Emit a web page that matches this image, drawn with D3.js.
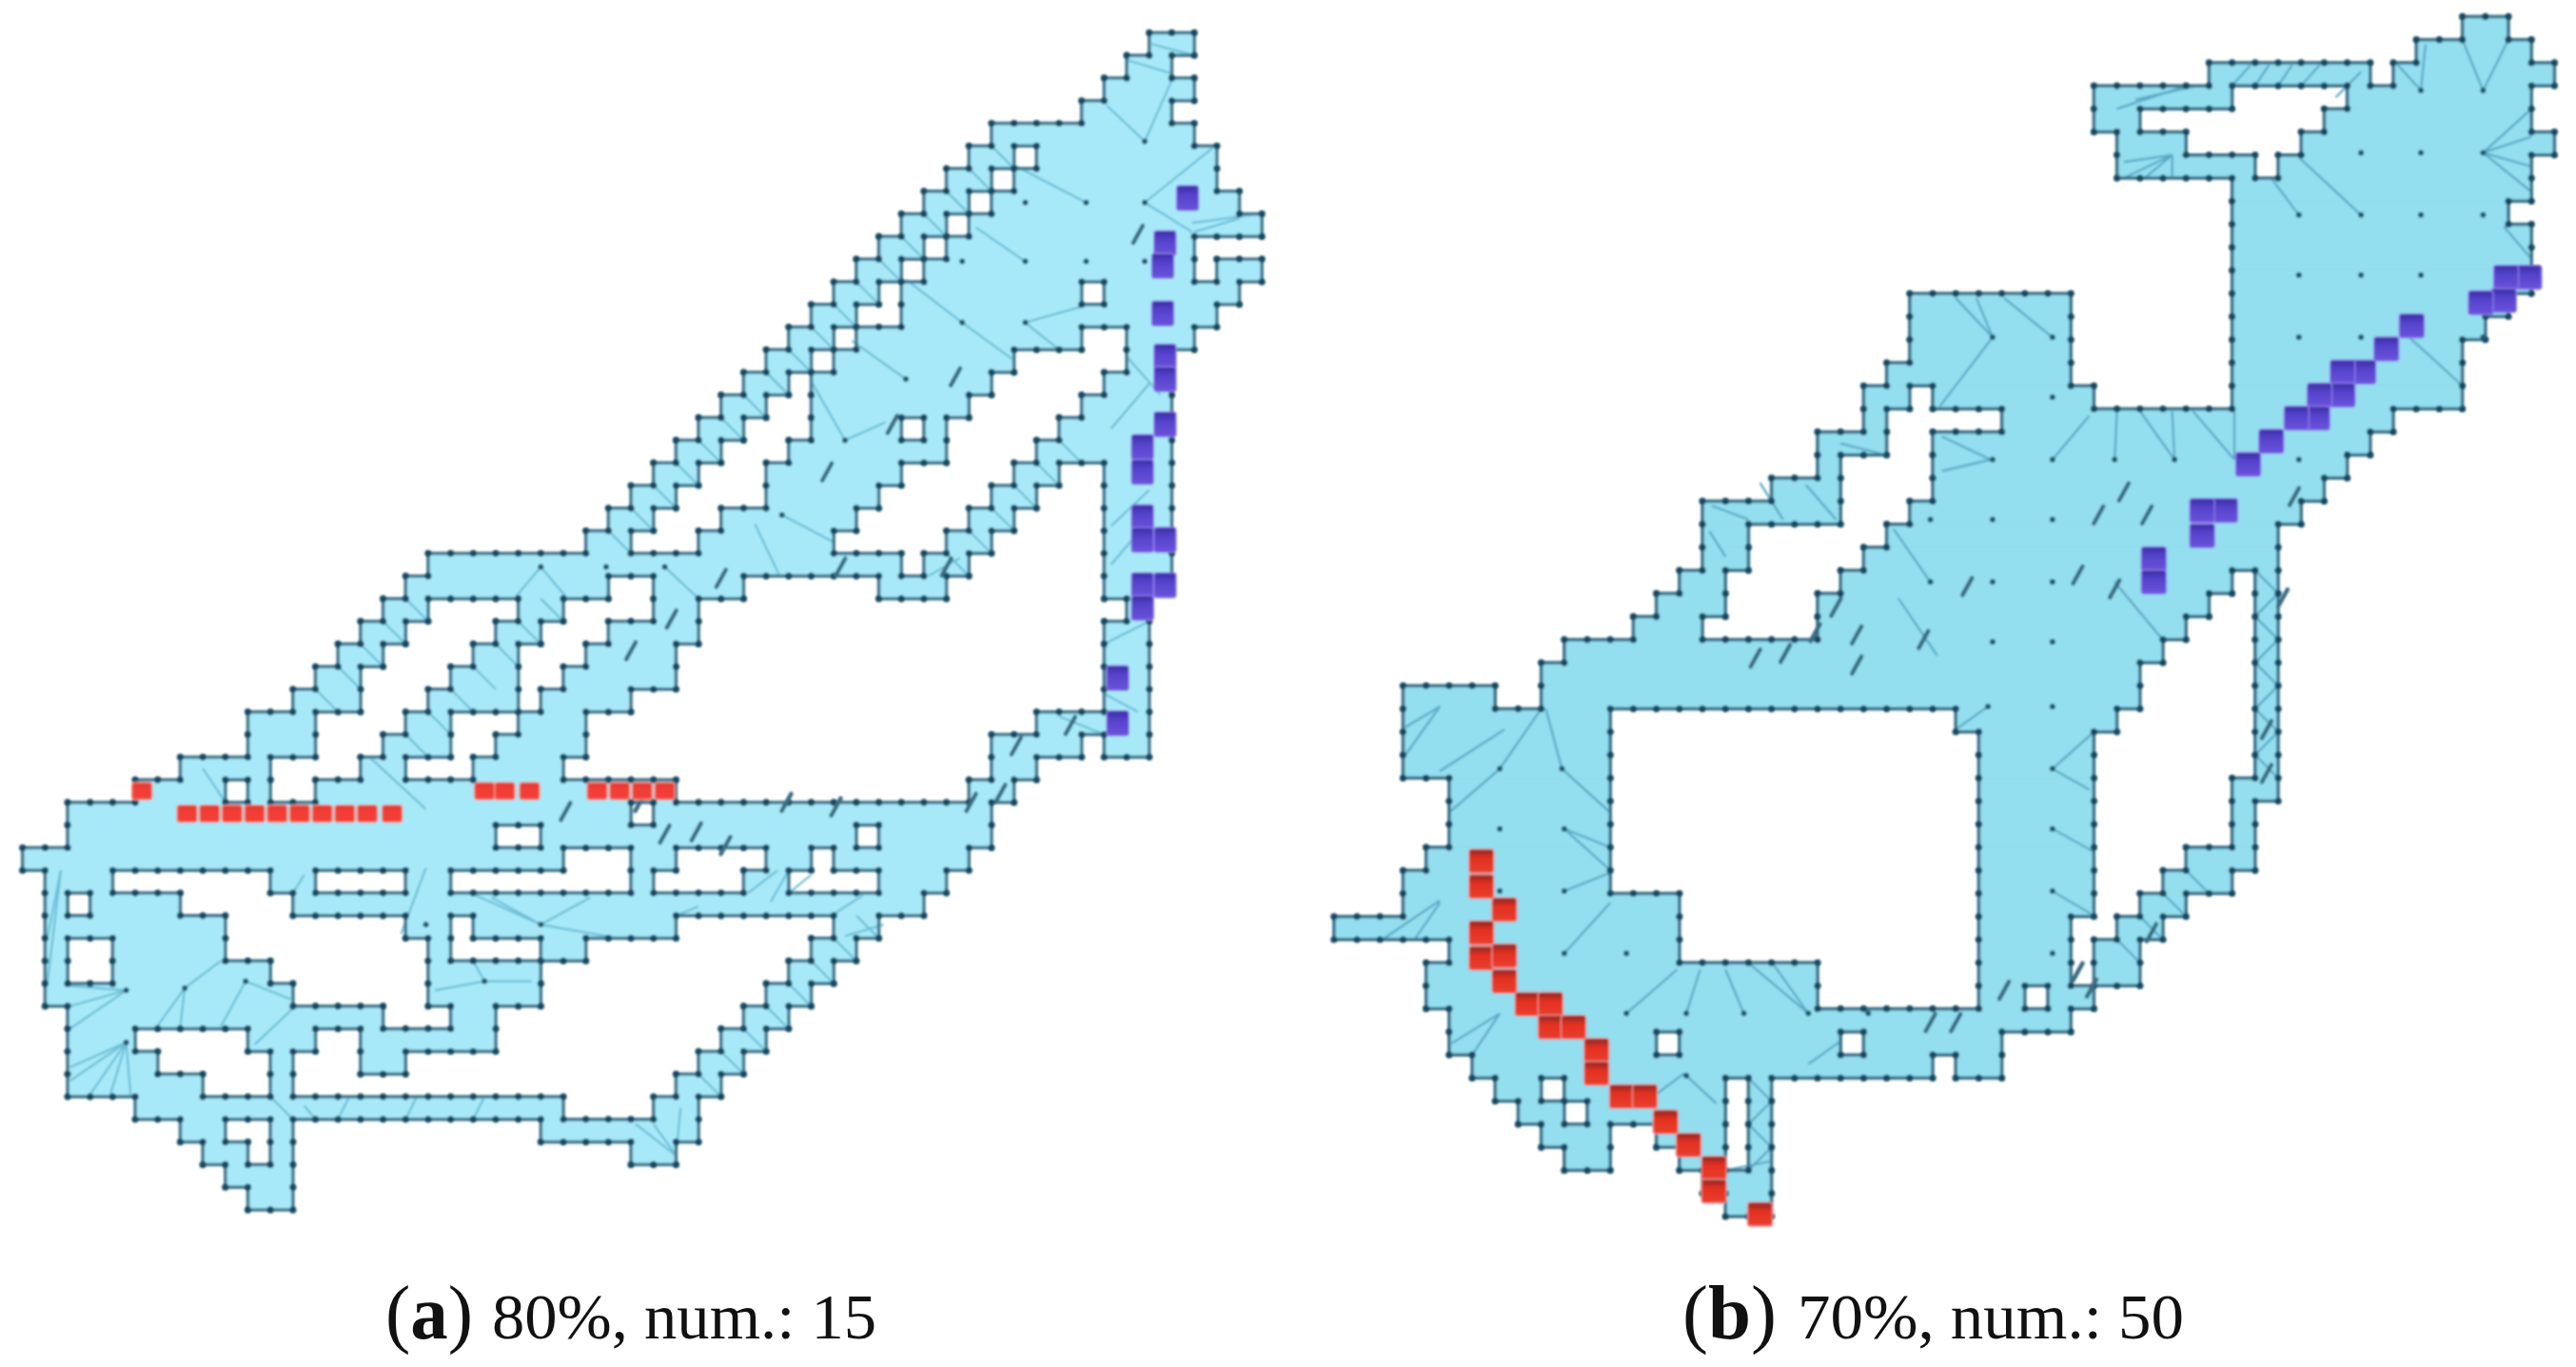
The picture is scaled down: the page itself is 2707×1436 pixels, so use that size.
<!DOCTYPE html>
<html><head><meta charset="utf-8">
<script src="https://cdn.jsdelivr.net/npm/d3@7"></script>
<style>html,body{margin:0;background:#fff}svg{display:block}</style></head>
<body><svg id="c" width="2707" height="1436"></svg>
<script>
// Free-space rows of each map: row index -> [from,to) cell runs
const rowsA=[
[[51,53]],[[50,52]],[[49,53]],[[48,52]],[[44,53]],[[43,45],[46,54]],[[42,44],[45,54]],[[41,43],[44,55]],
[[40,42],[43,56]],[[39,41],[42,53]],[[38,40],[41,53],[54,56]],[[37,39],[40,48],[49,55]],[[36,38],[40,54]],
[[35,37],[38,48],[50,53]],[[34,36],[37,45],[50,52]],[[33,35],[36,44],[49,52]],[[32,34],[36,43],[48,52]],
[[31,33],[36,40],[41,42],[47,52]],[[30,32],[35,42],[46,52]],[[29,31],[34,40],[45,47],[49,52]],
[[28,30],[34,39],[44,46],[49,52]],[[27,29],[32,38],[43,45],[49,52]],[[26,28],[31,37],[42,44],[49,52]],
[[19,40],[41,43],[49,52]],[[18,27],[29,33],[39,42],[49,51]],[[17,19],[23,25],[29,31],[50,51]],
[[16,18],[22,24],[27,31],[49,51]],[[15,17],[21,23],[26,30],[49,51]],[[14,16],[20,23],[25,30],[49,51]],
[[13,16],[19,23],[24,28],[49,51]],[[11,14],[18,20],[23,26],[46,51]],[[11,14],[17,20],[22,26],[44,48],[49,51]],
[[8,12],[16,18],[21,25],[44,46]],[[6,10],[11,12],[14,30],[43,45]],[[3,28],[29,44]],[[3,22],[24,38],[39,44]],
[[1,25],[28,30],[34,36],[37,43]],[[2,5],[12,14],[18,20],[28,29],[33,35],[39,42]],[[2,3],[4,8],[13,41]],
[[2,10],[18,20],[21,30],[37,39]],[[2,3],[5,10],[19,20],[24,26],[36,38]],[[2,3],[5,12],[19,24],[35,37]],
[[2,13],[19,24],[34,36]],[[3,17],[20,22],[33,35]],[[3,6],[11,14],[16,22],[32,34]],[[3,7],[12,13],[16,18],[31,33]],
[[3,9],[12,13],[30,32]],[[6,25],[29,31]],[[8,10],[12,13],[24,31]],[[9,11],[12,13],[28,30]],[[10,13]],[[11,13]]
];
const rowsB=[
[[49,51]],[[47,52]],[[38,45],[46,53]],[[33,39],[44,52]],[[33,35],[43,52]],[[34,37],[42,53]],[[34,40],[41,52]],
[[39,52]],[[39,51]],[[39,52]],[[39,52]],[[39,52]],[[25,32],[39,51]],[[25,32],[39,50]],[[25,32],[39,49]],
[[24,32],[39,49]],[[23,25],[26,33],[39,49]],[[23,24],[29,46]],[[21,24],[26,45]],[[21,22],[26,44]],
[[19,22],[26,43]],[[16,22],[25,42]],[[16,18],[24,41]],[[16,18],[23,41]],[[15,17],[22,39],[40,41]],
[[14,17],[21,38],[40,41]],[[13,16],[21,37],[40,41]],[[10,36],[40,41]],[[9,35],[40,41]],[[3,7],[9,35],[40,41]],
[[3,12],[27,34],[40,41]],[[3,12],[28,33],[40,41]],[[3,12],[28,33],[40,41]],[[5,12],[28,33],[39,41]],
[[5,12],[28,33],[39,40]],[[5,12],[28,33],[39,40]],[[4,12],[28,33],[37,40]],[[3,12],[28,33],[36,39]],
[[3,15],[28,33],[35,37]],[[0,15],[28,32],[34,36]],[[5,15],[28,32],[33,35]],[[4,21],[28,32],[33,35]],
[[4,21],[28,30],[31,33]],[[5,32]],[[5,14],[15,22],[23,29]],[[6,26],[27,29]],[[7,9],[10,17],[18,19]],
[[8,10],[11,17],[18,19]],[[9,12],[14,17],[18,19]],[[10,12],[15,17],[18,19]],[[16,19]],[[17,19]]
];
// Triangulation edges [k1,j1,k2,j2], in map cells
const edgesA=[
[48.2,7.5,45.1,5.9],[50.8,4.8,49.1,3.2],[50.8,4.8,52,2.1],[50.8,7.5,53.8,5.1],[50.8,7.5,52.9,8.8],[42.7,12.8,40.2,10.9],
[45.5,10.1,43.3,8.6],[42.7,12.8,44.9,14.4],[40.2,15.3,37.8,13.6],[45.5,12.8,48,12.1],[45.5,12.8,47,14],
[37.5,18,36,15.4],[37.5,18,39.3,17.2],[34.7,21.3,37,22.5],[33.5,21.7,34.6,24],[24,23.6,22.9,24.9],[24,23.6,25.1,24.9],
[29.5,23.6,30.9,24.9],[51.1,.5,53,1],[50,1.2,52,1.8],[52.9,8.4,55.9,8],[53,8.8,55,8.2],[50,14.3,51.5,16],[49.3,17.5,51,15.5],
[49.3,21.8,51,20.2],[49.3,23.5,51,21.5],[41.2,24,42.6,23.2],[47,30.2,49,31],[49,27,51,26],[49,29.2,50.5,30],
[5.6,44.6,3.1,45.7],[5.6,44.6,3.1,46.3],[5.6,44.6,4,46.9],[5.6,44.6,4.9,46.9],[5.6,44.6,5.8,47],
[5.6,42.3,3.1,42.1],[5.6,42.3,3.1,43],[5.6,42.3,3.1,44],[8.2,42.2,6.9,44],[8.2,42.2,9.8,41],[8.2,42.2,8,43.9],
[10.9,41.9,9.8,43.9],[10.9,41.9,12.9,42.7],[13,43.1,11.3,44.7],[18.9,34.3,16.4,32],[21.5,41.9,19.3,42.3],[21.5,41.9,21,41],
[21.5,41.9,23.6,41.9],[18.9,36.9,17.8,39.8],[24,39.4,21.1,38.1],[24,39.4,21.8,38.2],[24,39.4,26.9,39.9],[24,39.4,26.2,38.2],
[2.7,37,2.1,40],[2.7,37,2.1,42],[9,32.5,10,34],[30,49.6,29,48.2],
[30,49.6,28.2,48.2],[30,49.6,30.2,47.5],[13.5,47.4,14,48],[35,37,34.2,38.4],[38.3,38.1,36.9,39],
[44,5,45,6],[43,6,44,7],[42,7,43,8],[41,8,42,9],[40,9,41,10],[39,10,40,11],[38,11,39,12],[37,12,38,13],[36,13,37,14],[35,14,36,15],
[34,15,35,16],[33,16,34,17],[32,17,33,18],[31,18,32,19],[30,19,31,20],[29,20,30,21],[28,21,29,22],[27,22,28,23],
[18,25,19,26],[17,26,18,27],[16,27,17,28],[15,28,16,29],[14,29,15,30],
[47,18,48,19],[46,19,47,20],[45,20,46,21],[44,21,45,22],[43,22,44,23],[42,23,43,24],
[36,41,37,42],[35,42,36,43],[34,43,35,44],[33,44,34,45],[32,45,33,46],[31,46,32,47],[37,40,38,41],[38,39,39,40],
[24,25,25,26],[23,26,24,27],[22,27,23,28],[21,28,22,29],[20,29,21,30],[19,30,20,31],[18,31,19,32],
[13.5,37.2,13,38],[31,38.6,30,39],[34.5,37,33.2,38],[36,37.2,35,38],[39.2,39.4,37.5,39.9],[12,47,13,48],[15.5,47,15,48],[18.5,47,18,48],[21.5,47,21,48]
];
const edgesB=[
[41.9,8.6,40.7,7],[44.6,8.6,41.9,6.1],[49.9,3.2,49,1],[49.9,3.2,51,1],[47.2,3.2,47.4,1.2],[47.2,3.2,46.2,2.1],
[49.9,5.9,52,4],[49.9,5.9,52,5.2],[49.9,5.9,52,7.6],[49.9,5.9,52,6.5],[50.8,9.1,52,10.5],[28.6,13.9,26.3,16.9],
[28.6,13.9,27,12.2],[28.6,13.9,27.9,12.2],[31.2,13.9,29.1,12.2],[31.2,19.2,32.8,17.3],[33.9,19.2,34,17.1],
[36.5,19.2,35,17.1],[36.5,19.2,36.4,17.1],[39.1,19.2,37.3,17.1],[39.1,19.2,39.1,17.1],[28.5,19.2,26.4,18.2],
[28.5,19.2,26.4,19.7],[46.7,13.9,49,16],[33.9,24.5,35.9,26.9],[25.9,24.5,24.3,22.2],[36.4,6,34.3,7],[36.4,6,34.3,6.3],
[36.4,6,35.2,7],[36.4,6,36.4,7],[37,3,34,4],[37.5,3,34.8,3.6],[39,3,39.8,2.1],[40,3,40.6,2.1],[41,3,41.6,2.1],
[42,3,42.8,2.1],[43.5,3.5,44.6,2.4],[24,19,22,18.5],[18,21.8,16.4,21.2],[19.5,21.8,18.5,20.2],[21.8,21.8,20.5,20.3],
[17,23.4,16.3,22.3],[26.2,27.7,24.5,25.2],
[7.2,32.6,9,30],[9.9,32.6,9.2,30],[9.9,32.6,12,34.5],[7.2,32.6,5,34.5],[10,35.2,12,36],[10,35.2,12,37],[10,37.9,12,37.1],
[10,40.6,12,38.4],[12.7,43.2,14.9,41.3],[15.3,43.2,15.9,41.3],[17.8,43.2,17,41.3],[20.6,43.2,18.1,41.1],[20.6,43.2,19.1,41.1],
[20.6,45.4,22,44.4],[15.2,45.8,16.6,47.1],[15.2,45.8,13.6,47],[31.2,32.6,32.8,33.5],[31.2,35.2,33,36.2],[31.2,37.9,32.9,38.9],
[31.2,32.6,33,31],[28.4,29.9,27,30.9],[2.1,40,4.6,38.3],[3.5,40,4.6,38.4],[4.6,29.9,3.1,30.8],[4.6,29.9,3.1,32],[4.6,32.7,7.4,30.9],
[7.2,43.2,5.1,44.5],[7.2,43.2,6,45],
[40,24,41,25],[41,25,40,26],[40,26,41,27],[41,27,40,28],[40,28,41,29],[41,29,40,30],[40,30,41,31],[41,31,40,32],[40,32,41,33],
[18,46,19,47],[19,47,18,48],[18,48,19,49],[19,49,18,50],[17,50,19,49.6],[37,37,38,38],[36,38,37,39],[35,39,36,40],[34,40,35,41]
];
// Interior way-nodes [k,j]
const nodesA=[[48.2,7.5],[45.5,7.5],[50.8,7.5],[50.8,4.8],[42.7,10.1],[45.5,10.1],[48.2,10.1],[50.8,10.1],[42.7,12.8],[45.5,12.8],[40.2,15.3],[37.5,18],
[34.7,21.3],[24,23.6],[26.9,23.6],[29.5,23.6],[5.6,44.6],[5.6,42.3],[8.2,42.2],[10.9,41.9],[21.5,41.9],[24,39.4],[18.9,39.4]];
const nodesB=[[41.9,8.6],[44.6,8.6],[47.2,8.6],[49.9,8.6],[41.9,11.2],[44.6,11.2],[47.2,11.2],[41.9,13.9],[44.6,13.9],[49.9,13.9],
[44.6,5.9],[47.2,5.9],[49.9,5.9],[47.2,3.2],[49.9,3.2],[28.6,13.9],[31.2,13.9],[31.2,16.5],[28.6,19.2],[31.2,19.2],[33.9,19.2],[36.5,19.2],[41.9,19.2],
[25.9,21.8],[28.6,21.8],[31.2,21.8],[25.9,24.5],[28.6,24.5],[31.2,24.5],[28.6,27.1],[31.2,27.1],
[7.2,32.6],[9.9,32.6],[7.2,35.2],[10,35.2],[10,37.9],[7.2,37.9],[10,40.6],[12.7,40.6],[12.7,43.2],[15.3,43.2],[17.8,43.2],[20.6,43.2],[23.2,43.2],
[28.4,29.9],[31.2,29.9],[31.2,32.6],[31.2,35.2],[31.2,37.9],[31.2,40.6],[15.3,45.9]];
// Crowd clusters (small dark pedestrian blots) [k,j]
const blotsA=[[50.5,8.9],[42.4,15.2],[39.6,17.3],[36.7,19.4],[32,24.1],[29.8,25.9],[28,27.3],[37.3,23.6],[42,23.6],
[30.9,35.3],[32.2,35.9],[29.5,35.4],[25.1,34.4],[37.1,34.2],[34.9,34],[43.1,34],[45.1,31.5],[47.5,30.6],[44.4,33.6],[28.4,34]];
const blotsB=[[34.3,20.6],[33.2,21.6],[35.3,21.6],[32.3,24.2],[27.5,24.7],[33.9,24.8],[41.7,20.8],[21.8,25.6],[22.7,26.8],[25.6,27],[20.9,26.7],[18.3,27.8],[19.6,27.6],
[22.7,28.1],[29.1,42.2],[25.9,43.6],[27,43.6],[32.9,42.1],[32.3,41.4],[35.5,39.7],[40.5,30.9],[40.5,32.8],[41.2,25.2]];
// Agents [k,j]
const redA=[[6.3,33.5],[8.3,34.5],[9.3,34.5],[10.3,34.5],[11.3,34.5],[12.3,34.5],[13.3,34.5],[14.3,34.5],[15.3,34.5],[16.3,34.5],[17.4,34.5],
[21.5,33.5],[22.4,33.5],[23.5,33.5],[26.5,33.5],[27.5,33.5],[28.5,33.5],[29.5,33.5]];
const blueA=[[52.7,7.3],[51.7,9.3],[51.6,10.3],[51.6,12.4],[51.7,14.3],[51.7,15.3],[51.7,17.3],[50.7,18.3],[50.7,19.4],[50.7,21.4],[50.7,22.4],[51.7,22.4],
[50.7,24.4],[51.7,24.4],[50.7,25.4],[49.6,28.5],[49.6,30.5]];
const redB=[[6.4,36.6],[6.4,37.7],[7.4,38.7],[6.4,39.7],[6.4,40.8],[7.4,40.7],[7.4,41.8],[8.4,42.8],[9.4,42.8],[9.4,43.8],[10.4,43.8],[11.4,44.8],[11.4,45.8],
[12.5,46.8],[13.5,46.8],[14.4,47.9],[15.4,48.9],[16.5,49.9],[16.5,50.9],[18.5,51.9]];
const blueB=[[51.9,11.3],[50.9,11.3],[50.8,12.3],[49.8,12.4],[46.8,13.4],[45.7,14.4],[44.7,15.4],[43.8,15.4],[43.8,16.4],[42.8,16.4],[42.7,17.4],[41.8,17.4],
[40.7,18.4],[39.7,19.4],[38.7,21.4],[37.7,21.4],[37.7,22.5],[35.6,23.5],[35.6,24.5]];
const captions=[{tag:"a",rest:"80%, num.: 15",x1:405,w1:92,x2:517,w2:404},{tag:"b",rest:"70%, num.: 50",x1:1768,w1:99,x2:1889,w2:406}];

const svg=d3.select("#c");
const defs=svg.append("defs");
defs.append("filter").attr("id","soft").attr("x","-2%").attr("y","-2%").attr("width","104%").attr("height","104%")
  .append("feGaussianBlur").attr("stdDeviation",1.3);
const grad=(id,c0,c1,c2)=>{const g=defs.append("linearGradient").attr("id",id).attr("x1",0).attr("x2",0).attr("y1",0).attr("y2",1);
  [[0,c0],[.38,c1],[1,c2]].forEach(s=>g.append("stop").attr("offset",s[0]).attr("stop-color",s[1]));};
grad("redFlat","#e03a33","#f23c35","#f5403a");
grad("redDark","#8c2723","#e4301f","#e8402f");
grad("blueDark","#392ea4","#5642cc","#6a54dc");

function panel(cfg){
  const x=d3.scaleLinear().domain([0,1]).range([cfg.x0,cfg.x0+cfg.cw]);
  const y=d3.scaleLinear().domain([0,1]).range([cfg.y0,cfg.y0+cfg.ch]);
  const g=svg.append("g").attr("filter","url(#soft)");
  const cells=[];
  cfg.rows.forEach((runs,j)=>runs.forEach(r=>cells.push({j,a:r[0],b:r[1]})));
  g.append("g").selectAll("rect").data(cells).join("rect")
    .attr("x",d=>x(d.a)).attr("y",d=>y(d.j)-.3).attr("width",d=>x(d.b)-x(d.a)).attr("height",y(1)-y(0)+.6)
    .attr("fill",cfg.fill);
  g.append("g").selectAll("line").data(cfg.edges).join("line")
    .attr("x1",d=>x(d[0])).attr("y1",d=>y(d[1])).attr("x2",d=>x(d[2])).attr("y2",d=>y(d[3]))
    .attr("stroke",cfg.edge).attr("stroke-width",2.2);
  // walls: cell sides that have no free neighbour
  const free=(k,j)=>(cfg.rows[j]||[]).some(r=>k>=r[0]&&k<r[1]);
  const walls=[];
  cfg.rows.forEach((runs,j)=>runs.forEach(r=>{
    for(let k=r[0];k<r[1];k++){
      if(!free(k,j-1))walls.push([k,j,k+1,j]);
      if(!free(k,j+1))walls.push([k,j+1,k+1,j+1]);
      if(!free(k-1,j))walls.push([k,j,k,j+1]);
      if(!free(k+1,j))walls.push([k+1,j,k+1,j+1]);
    }
  }));
  g.append("g").selectAll("line").data(walls).join("line")
    .attr("x1",d=>x(d[0])).attr("y1",d=>y(d[1])).attr("x2",d=>x(d[2])).attr("y2",d=>y(d[3]))
    .attr("stroke",cfg.wall).attr("stroke-width",3.6);
  const corners=[...new Set(walls.flatMap(w=>[w[0]+","+w[1],w[2]+","+w[3]]))].map(s=>s.split(",").map(Number));
  g.append("g").selectAll("circle").data(corners).join("circle")
    .attr("cx",d=>x(d[0])).attr("cy",d=>y(d[1])).attr("r",3.6).attr("fill","#174a62");
  g.append("g").selectAll("circle.n").data(cfg.nodes).join("circle")
    .attr("cx",d=>x(d[0])).attr("cy",d=>y(d[1])).attr("r",3).attr("fill","#20586f");
  g.append("g").selectAll("path").data(cfg.blots).join("path")
    .attr("d",d=>`M${x(d[0])-5},${y(d[1])+9}L${x(d[0])+5},${y(d[1])-9}`)
    .attr("stroke","#3a6d83").attr("stroke-width",4.5).attr("stroke-linecap","round");
  const agents=(data,w,h,fill,rim)=>g.append("g").selectAll("rect").data(data).join("rect")
    .attr("x",d=>x(d[0])-w/2).attr("y",d=>y(d[1])-h/2).attr("width",w).attr("height",h).attr("rx",3)
    .attr("fill",fill).attr("stroke",rim).attr("stroke-width",1.5);
  agents(cfg.red,cfg.rw,cfg.rh,cfg.redFill,cfg.redRim);
  agents(cfg.blue,cfg.bw,cfg.bh,"url(#blueDark)","#8a76e4");
}
panel({rows:rowsA,edges:edgesA,nodes:nodesA,blots:blotsA,red:redA,blue:blueA,x0:0,cw:23.68,y0:34.4,ch:23.78,fill:"#a7e9f9",edge:"#6cbdd6",wall:"#477a8f",
  rw:21,rh:18,redFill:"url(#redFlat)",redRim:"#f08a7c",bw:23,bh:26});
panel({rows:rowsB,edges:edgesB,nodes:nodesB,blots:blotsB,red:redB,blue:blueB,x0:1401.8,cw:24.2,y0:17.4,ch:24.24,fill:"#93deef",edge:"#58a8c4",wall:"#40748a",
  rw:26,rh:25,redFill:"url(#redDark)",redRim:"#e88a8a",bw:26,bh:25});

captions.forEach(c=>{
  const t=svg.append("text").attr("x",c.x1).attr("y",1406).attr("font-family","'Liberation Serif',serif").attr("font-size",80)
    .attr("textLength",c.w1).attr("lengthAdjust","spacingAndGlyphs").attr("fill","#111");
  t.append("tspan").text("(");
  t.append("tspan").attr("font-weight","bold").text(c.tag);
  t.append("tspan").text(")");
  svg.append("text").attr("x",c.x2).attr("y",1406).attr("font-family","'Liberation Serif',serif").attr("font-size",68)
    .attr("textLength",c.w2).attr("lengthAdjust","spacingAndGlyphs").attr("fill","#111").text(c.rest);
});
</script></body></html>
